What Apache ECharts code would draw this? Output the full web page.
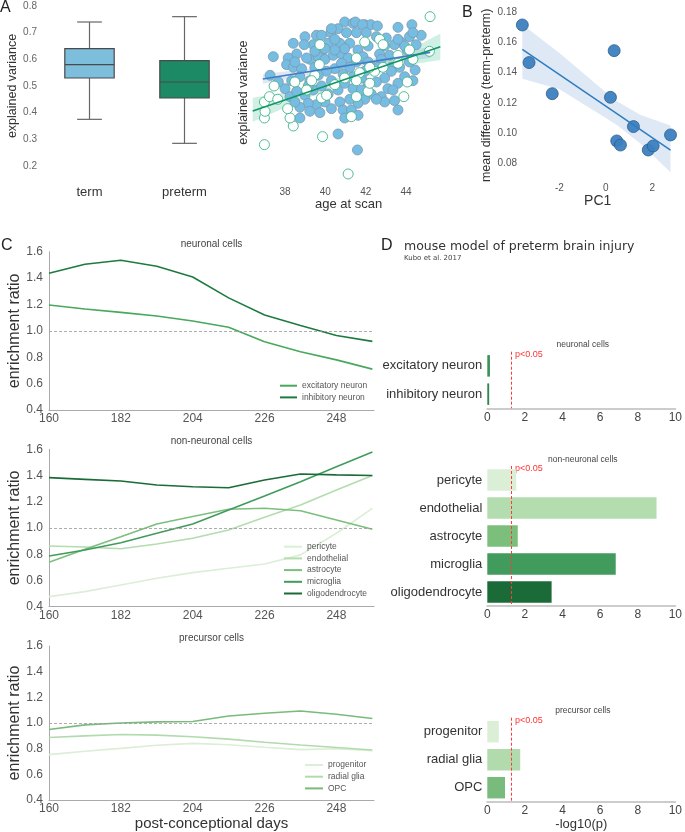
<!DOCTYPE html>
<html>
<head>
<meta charset="utf-8">
<script src="https://cdn.jsdelivr.net/npm/echarts@6/dist/echarts.min.js"></script>
<style>
html,body{margin:0;padding:0;background:#fff;}
#main{width:685px;height:832px;}
</style>
</head>
<body>
<div id="main"></div>
<script>
// ---------- panel A: boxplot  (min, q1, median, q3, max) ----------
var boxGroups = ['term', 'preterm'];
var boxStats = [
  [0.375, 0.53, 0.58, 0.64, 0.74],
  [0.285, 0.455, 0.515, 0.595, 0.76]
];

// ---------- panel A: explained variance vs age at scan ----------
var termPoints = [
  [37.42,0.61],[38.41,0.66],[38.99,0.685],[39.56,0.69],[40.27,0.70],[40.96,0.74],[41.37,0.735],[40.63,0.715],
  [41.95,0.73],[42.25,0.73],[42.58,0.725],[43.60,0.72],[44.29,0.73],[44.75,0.69],[44.17,0.685],[43.73,0.665],
  [44.50,0.655],[44.06,0.635],[43.19,0.615],[42.69,0.62],[42.12,0.65],[41.62,0.635],[41.21,0.66],[40.72,0.66],
  [40.14,0.66],[39.81,0.635],[39.40,0.655],[38.95,0.655],[38.58,0.62],[38.16,0.605],[38.08,0.58],[38.41,0.57],
  [38.82,0.565],[39.23,0.60],[39.65,0.61],[39.98,0.60],[40.39,0.615],[40.80,0.62],[41.13,0.605],[41.54,0.59],
  [41.87,0.61],[42.36,0.57],[42.77,0.60],[43.27,0.57],[43.68,0.57],[44.17,0.59],[44.45,0.56],[43.27,0.555],
  [42.94,0.53],[42.53,0.515],[42.12,0.51],[41.79,0.53],[41.37,0.535],[40.88,0.545],[40.47,0.565],[40.06,0.555],
  [39.65,0.54],[39.23,0.52],[38.74,0.535],[38.33,0.52],[38.0,0.49],[38.25,0.46],[38.58,0.48],[38.99,0.465],
  [39.40,0.485],[39.81,0.50],[40.14,0.47],[40.63,0.485],[40.96,0.51],[41.37,0.49],[41.79,0.485],[42.28,0.47],
  [42.77,0.46],[43.10,0.49],[43.60,0.51],[43.93,0.535],[44.34,0.52],[43.35,0.485],[42.94,0.44],[42.53,0.45],
  [41.95,0.45],[41.62,0.435],[41.21,0.45],[40.72,0.44],[40.30,0.415],[39.98,0.44],[39.56,0.43],[39.15,0.435],
  [38.74,0.42],[38.74,0.38],[39.23,0.405],[39.73,0.40],[40.88,0.41],[41.29,0.41],[41.62,0.39],[40.96,0.38],
  [40.63,0.32],[41.59,0.26],[43.43,0.445],[43.60,0.41],[37.26,0.54],[37.67,0.515],[41.49,0.74],[41.84,0.73],
  [39.81,0.69],[40.47,0.675],[41.05,0.70],[41.54,0.70],[42.03,0.70],[42.53,0.685],[43.02,0.68],[40.96,0.64],
  [40.47,0.635],[39.98,0.64],[39.48,0.63],[39.07,0.605],[38.49,0.59],[42.94,0.65],[43.43,0.655],[43.93,0.65],
  [44.34,0.70],[43.60,0.675],[40.30,0.715],[42.61,0.57],[42.12,0.59],[40.80,0.585],[39.48,0.57],[39.15,0.50],
  [40.30,0.52],[41.95,0.555],[41.21,0.57],[38.49,0.44]
];
var pretermPoints = [
  [45.19,0.76],[45.16,0.63],[36.98,0.28],[41.13,0.17],[39.86,0.31],[38.41,0.35],[38.25,0.38],[36.98,0.38],
  [37.01,0.405],[36.98,0.44],[37.46,0.50],[37.23,0.46],[37.64,0.45],[38.13,0.415],[38.49,0.515],[39.73,0.655],
  [39.70,0.58],[39.48,0.54],[39.81,0.455],[39.32,0.52],[41.29,0.385],[41.54,0.46],[42.12,0.48],[42.20,0.51],
  [41.95,0.665],[42.69,0.675],[42.86,0.655],[42.44,0.555],[43.60,0.615],[44.17,0.635],[44.06,0.515],[43.89,0.46],
  [42.20,0.57],[41.54,0.605],[41.70,0.55],[40.96,0.53],[40.47,0.505],[40.06,0.465],[39.07,0.485],[41.54,0.52],
  [42.86,0.57],[44.34,0.60],[43.60,0.585]
];
var termFit = [[36.9, 0.526], [45.2, 0.626]];
var pretermFit = [[36.4, 0.406], [45.7, 0.647]];
// [age, lower, upper]
var termBand = [[36.9,0.508,0.544],[41,0.567,0.583],[45.2,0.605,0.647]];
var pretermBand = [[36.4,0.366,0.456],[38,0.418,0.476],[40,0.482,0.516],[41,0.51,0.54],[42,0.535,0.567],[44,0.578,0.628],[45.7,0.597,0.697]];

// ---------- panel B ----------
var pc1 = [-3.6, -3.31, -2.31, 0.36, 0.2, 1.19, 0.47, 0.63, 1.83, 2.04, 2.79];
var meanDiff = [0.1716, 0.1467, 0.1261, 0.1546, 0.1237, 0.1043, 0.0948, 0.0921, 0.0888, 0.0915, 0.0988];
var bFit = [[-3.6, 0.1555], [2.79, 0.0888]];
var bBand = [[-3.6,0.136,0.172],[-2,0.129,0.153],[0,0.110,0.127],[0.5,0.105,0.121],[1.5,0.093,0.112],[2.79,0.074,0.105]];

// ---------- panel C: enrichment ratio over post-conceptional days ----------
var days = [160, 171, 182, 193, 204, 215, 226, 237, 248, 259];
var dayTicks = [160, 182, 204, 226, 248];
var excitatory = [1.196,1.166,1.14,1.113,1.075,1.027,0.918,0.842,0.78,0.71];
var inhibitory = [1.436,1.505,1.535,1.49,1.408,1.25,1.12,1.04,0.965,0.92];
var pericyte = [0.477,0.515,0.566,0.617,0.66,0.693,0.726,0.795,0.96,1.15];
var endothelial = [0.863,0.855,0.842,0.878,0.922,0.985,1.082,1.175,1.29,1.40];
var astrocyte = [0.739,0.838,0.934,1.031,1.087,1.143,1.15,1.132,1.061,0.99];
var microglia = [0.787,0.832,0.888,0.96,1.031,1.137,1.244,1.353,1.467,1.58];
var oligodendrocyte = [1.384,1.371,1.358,1.328,1.315,1.307,1.366,1.412,1.405,1.40];
var progenitor = [0.754,0.78,0.803,0.827,0.842,0.831,0.811,0.793,0.80,0.785];
var radialGlia = [0.888,0.90,0.911,0.906,0.893,0.875,0.85,0.829,0.81,0.79];
var opc = [0.95,0.986,1.0,1.009,1.012,1.055,1.076,1.094,1.068,1.035];

// ---------- panel D: -log10(p) ----------
var neuronCats = ['excitatory neuron', 'inhibitory neuron'];
var neuronP = [0.14, 0.1];
var nonNeuronCats = ['pericyte', 'endothelial', 'astrocyte', 'microglia', 'oligodendrocyte'];
var nonNeuronP = [1.54, 9.0, 1.62, 6.83, 3.42];
var precursorCats = ['progenitor', 'radial glia', 'OPC'];
var precursorP = [0.61, 1.75, 0.94];
var pThreshold = 1.301;

// colours
var boxColors = ['#7dbedd', '#1b8a65'];
var neuronColors = ['#48a85c', '#1e7b3f'];
var nonNeuronColors = ['#dbefd7', '#b3dcaf', '#7cbf7d', '#419b5c', '#1b6b38'];
var precursorColors = ['#dbeed6', '#b2dbad', '#79bb7c'];
var neuronBarColors = ['#3a9158', '#2f8650'];

var FONT = 'Liberation Sans, Arial, sans-serif';

function pairs(xs, ys){
  return xs.map(function(x, i){ return [x, ys[i]]; });
}

function bandSeries(band, idx, color){
  return {
    type: 'custom', xAxisIndex: idx, yAxisIndex: idx, silent: true,
    data: band, encode: {x: 0, y: [1, 2]},
    renderItem: function(params, api){
      if (params.dataIndex !== 0) return null;
      var pts = [];
      band.forEach(function(b){ pts.push(api.coord([b[0], b[2]])); });
      band.slice().reverse().forEach(function(b){ pts.push(api.coord([b[0], b[1]])); });
      return {type: 'polygon', shape: {points: pts}, style: {fill: color}};
    }
  };
}

function lineSeries(name, ys, color, idx, width){
  return {
    name: name, type: 'line', xAxisIndex: idx, yAxisIndex: idx,
    data: pairs(days, ys), symbol: 'none', smooth: false, silent: true,
    lineStyle: {color: color, width: width || 1.6}, itemStyle: {color: color}
  };
}

function refLine(idx){
  return {
    type: 'line', xAxisIndex: idx, yAxisIndex: idx, data: [], silent: true,
    markLine: {
      symbol: ['none', 'none'], silent: true, label: {show: false},
      lineStyle: {color: '#999', type: [3, 2], width: 0.8},
      data: [{yAxis: 1}]
    }
  };
}

function barSeries(vals, colors, idx){
  return {
    type: 'bar', xAxisIndex: idx, yAxisIndex: idx, barWidth: 21.5, silent: true,
    data: vals.map(function(v, i){ return {value: v, itemStyle: {color: colors[i]}}; }),
    markLine: {
      symbol: ['none', 'none'], silent: true, label: {show: false},
      lineStyle: {color: '#ff3b3b', type: [3, 2], width: 1},
      data: [{xAxis: pThreshold}]
    }
  };
}

function cXAxis(idx, name){
  return {
    gridIndex: idx, type: 'value', min: 160, max: 259.5,
    axisLine: {show: true, lineStyle: {color: '#aaa', width: 1}},
    axisTick: {show: false}, splitLine: {show: false},
    axisLabel: {customValues: dayTicks, fontSize: 12, color: '#555', margin: 3},
    name: name || '', nameLocation: 'middle', nameGap: 15,
    nameTextStyle: {fontSize: 15, color: '#333'}
  };
}
function cYAxis(idx){
  return {
    gridIndex: idx, type: 'value', min: 0.4, max: 1.6, interval: 0.2,
    axisLine: {show: true, lineStyle: {color: '#aaa', width: 1}},
    axisTick: {show: false}, splitLine: {show: false},
    axisLabel: {fontSize: 12, color: '#555', margin: 6, formatter: function(v){ return v.toFixed(1); }},
    name: 'enrichment ratio', nameLocation: 'middle', nameGap: 21,
    nameTextStyle: {fontSize: 16, color: '#333'}
  };
}
function dXAxis(idx, name){
  return {
    gridIndex: idx, type: 'value', min: 0, max: 10, interval: 2,
    axisLine: {show: true, lineStyle: {color: '#ccc', width: 2}},
    axisTick: {show: false}, splitLine: {show: false},
    axisLabel: {fontSize: 12, color: '#444', margin: 3},
    name: name || '', nameLocation: 'middle', nameGap: 16,
    nameTextStyle: {fontSize: 13, color: '#333'}
  };
}
function dYAxis(idx, cats){
  return {
    gridIndex: idx, type: 'category', data: cats, inverse: true,
    axisLine: {show: false}, axisTick: {show: false}, splitLine: {show: false},
    axisLabel: {fontSize: 13, color: '#333', margin: 5}
  };
}
function legendBox(names, left, top, iw){
  return {
    data: names, orient: 'vertical', left: left, top: top, padding: 0,
    icon: 'rect', itemWidth: iw, itemHeight: 2, itemGap: 1.7,
    selectedMode: false,
    textStyle: {fontSize: 8.5, color: '#555', lineHeight: 10, fontFamily: FONT}
  };
}
function txt(x, y, s, size, color, align, family){
  return {
    type: 'text', x: x, y: y, silent: true,
    style: {text: s, fontSize: size, fill: color || '#333', align: align || 'left',
            verticalAlign: 'middle', fontFamily: family || FONT}
  };
}

var myChart = echarts.init(document.getElementById('main'));
myChart.setOption({
  animation: false,
  backgroundColor: '#fff',
  textStyle: {fontFamily: FONT},
  grid: [
    {left: 42, top: 6, width: 190, height: 160},
    {left: 250.7, top: 6, width: 195.7, height: 173.3},
    {left: 520, top: 12.3, width: 155.4, height: 166.1},
    {left: 49, top: 251.7, width: 325, height: 158.3},
    {left: 49, top: 449.3, width: 325, height: 157.4},
    {left: 49, top: 646, width: 325, height: 155.7},
    {left: 487.3, top: 351.7, width: 191, height: 56.6},
    {left: 487.3, top: 466, width: 191, height: 140},
    {left: 487.3, top: 717.7, width: 191, height: 84}
  ],
  xAxis: [
    {gridIndex: 0, type: 'category', data: boxGroups,
     axisLine: {show: false}, axisTick: {show: false},
     axisLabel: {fontSize: 13, color: '#333', margin: 20}},
    {gridIndex: 1, type: 'value', min: 36.3, max: 46,
     axisLine: {show: false}, axisTick: {show: false}, splitLine: {show: false},
     axisLabel: {customValues: [38, 40, 42, 44], fontSize: 10, color: '#555', margin: 8},
     name: 'age at scan', nameLocation: 'middle', nameGap: 15,
     nameTextStyle: {fontSize: 13, color: '#333'}},
    {gridIndex: 2, type: 'value', min: -3.7, max: 3.0,
     axisLine: {show: false}, axisTick: {show: false}, splitLine: {show: false},
     axisLabel: {customValues: [-2, 0, 2], fontSize: 10, color: '#555', margin: 5},
     name: 'PC1', nameLocation: 'middle', nameGap: 14,
     nameTextStyle: {fontSize: 14, color: '#333'}},
    cXAxis(3), cXAxis(4), cXAxis(5, 'post-conceptional days'),
    dXAxis(6), dXAxis(7), dXAxis(8, '-log10(p)')
  ],
  yAxis: [
    {gridIndex: 0, type: 'value', min: 0.2, max: 0.8, interval: 0.1,
     axisLine: {show: false}, axisTick: {show: false}, splitLine: {show: false},
     axisLabel: {fontSize: 10, color: '#666', margin: 5, formatter: function(v){ return v.toFixed(1); }},
     name: 'explained variance', nameLocation: 'middle', nameGap: 21,
     nameTextStyle: {fontSize: 12.5, color: '#333'}},
    {gridIndex: 1, type: 'value', min: 0.15, max: 0.8,
     axisLine: {show: false}, axisTick: {show: false}, splitLine: {show: false},
     axisLabel: {show: false},
     name: 'explained variance', nameLocation: 'middle', nameGap: 1,
     nameTextStyle: {fontSize: 12.5, color: '#333'}},
    {gridIndex: 2, type: 'value', min: 0.07, max: 0.18,
     axisLine: {show: false}, axisTick: {show: false}, splitLine: {show: false},
     axisLabel: {customValues: [0.08, 0.10, 0.12, 0.14, 0.16, 0.18], fontSize: 10, color: '#555', margin: 3,
                 formatter: function(v){ return v.toFixed(2); }},
     name: 'mean difference (term-preterm)', nameLocation: 'middle', nameGap: 27,
     nameTextStyle: {fontSize: 12.5, color: '#333'}},
    cYAxis(3), cYAxis(4), cYAxis(5),
    dYAxis(6, neuronCats), dYAxis(7, nonNeuronCats), dYAxis(8, precursorCats)
  ],
  legend: [
    legendBox(['excitatory neuron', 'inhibitory neuron'], 280, 380.7, 17),
    legendBox(['pericyte', 'endothelial', 'astrocyte', 'microglia', 'oligodendrocyte'], 284, 541.7, 18),
    legendBox(['progenitor', 'radial glia', 'OPC'], 305, 760, 18)
  ],
  graphic: [
    txt(0, 8, 'A', 16, '#222'),
    txt(462, 13, 'B', 16, '#222'),
    txt(1, 246, 'C', 16, '#222'),
    txt(381, 246, 'D', 16, '#222'),
    txt(404, 247, 'mouse model of preterm brain injury', 12.5, '#333', 'left', 'DejaVu Sans'),
    txt(404, 258.5, 'Kubo et al. 2017', 7, '#444', 'left', 'DejaVu Sans'),
    txt(211.5, 244, 'neuronal cells', 10, '#444', 'center'),
    txt(211.5, 441.3, 'non-neuronal cells', 10, '#444', 'center'),
    txt(211.5, 638.3, 'precursor cells', 10, '#444', 'center'),
    txt(582.8, 345, 'neuronal cells', 8.5, '#444', 'center'),
    txt(582.8, 459.3, 'non-neuronal cells', 8.5, '#444', 'center'),
    txt(582.8, 710.7, 'precursor cells', 8.5, '#444', 'center'),
    txt(515, 354.3, 'p<0.05', 9, '#ff3333'),
    txt(515, 469, 'p<0.05', 9, '#ff3333'),
    txt(515, 720.3, 'p<0.05', 9, '#ff3333')
  ],
  series: [
    // A boxplot
    {type: 'custom', xAxisIndex: 0, yAxisIndex: 0, silent: true,
     data: boxStats.map(function(s, i){ return [i].concat(s); }),
     encode: {x: 0, y: [1, 2, 3, 4, 5]},
     renderItem: function(params, api){
       var i = api.value(0);
       var w = api.size([1, 0])[0] * 0.52;
       var pMin = api.coord([i, api.value(1)]);
       var pQ1 = api.coord([i, api.value(2)]);
       var pMed = api.coord([i, api.value(3)]);
       var pQ3 = api.coord([i, api.value(4)]);
       var pMax = api.coord([i, api.value(5)]);
       var cx = pMed[0];
       var st = {stroke: '#666', lineWidth: 1.2};
       return {type: 'group', children: [
         {type: 'line', shape: {x1: cx, y1: pMin[1], x2: cx, y2: pQ1[1]}, style: st},
         {type: 'line', shape: {x1: cx, y1: pQ3[1], x2: cx, y2: pMax[1]}, style: st},
         {type: 'line', shape: {x1: cx - w / 4, y1: pMin[1], x2: cx + w / 4, y2: pMin[1]}, style: st},
         {type: 'line', shape: {x1: cx - w / 4, y1: pMax[1], x2: cx + w / 4, y2: pMax[1]}, style: st},
         {type: 'rect', shape: {x: cx - w / 2, y: pQ3[1], width: w, height: pQ1[1] - pQ3[1]},
          style: {fill: boxColors[params.dataIndex], stroke: '#4a4a4a', lineWidth: 1.2}},
         {type: 'line', shape: {x1: cx - w / 2, y1: pMed[1], x2: cx + w / 2, y2: pMed[1]},
          style: {stroke: '#4a4a4a', lineWidth: 1.2}}
       ]};
     }},
    // A scatter
    {type: 'scatter', xAxisIndex: 1, yAxisIndex: 1, data: termPoints, symbolSize: 10, silent: true,
     itemStyle: {color: '#76bde3', borderColor: '#7d98ab', borderWidth: 0.8, opacity: 1}},
    {type: 'scatter', xAxisIndex: 1, yAxisIndex: 1, data: pretermPoints, symbolSize: 10, silent: true,
     itemStyle: {color: '#ffffff', borderColor: '#3db58a', borderWidth: 0.9, opacity: 1}},
    bandSeries(termBand, 1, 'rgba(70,130,200,0.18)'),
    bandSeries(pretermBand, 1, 'rgba(90,200,160,0.28)'),
    {type: 'line', xAxisIndex: 1, yAxisIndex: 1, data: termFit, symbol: 'none', silent: true,
     lineStyle: {color: '#3d7ec6', width: 1.6}},
    {type: 'line', xAxisIndex: 1, yAxisIndex: 1, data: pretermFit, symbol: 'none', silent: true,
     lineStyle: {color: '#109663', width: 1.6}},
    // B
    bandSeries(bBand, 2, 'rgba(60,125,195,0.17)'),
    {type: 'line', xAxisIndex: 2, yAxisIndex: 2, data: bFit, symbol: 'none', silent: true,
     lineStyle: {color: '#2f7cc0', width: 1.5}},
    {type: 'scatter', xAxisIndex: 2, yAxisIndex: 2, data: pairs(pc1, meanDiff), symbolSize: 12, silent: true,
     itemStyle: {color: '#3b7fc0', borderColor: '#2c5a85', borderWidth: 0.8, opacity: 0.95}},
    // C neuronal
    refLine(3),
    lineSeries('excitatory neuron', excitatory, neuronColors[0], 3),
    lineSeries('inhibitory neuron', inhibitory, neuronColors[1], 3),
    // C non-neuronal
    refLine(4),
    lineSeries('pericyte', pericyte, nonNeuronColors[0], 4),
    lineSeries('endothelial', endothelial, nonNeuronColors[1], 4),
    lineSeries('astrocyte', astrocyte, nonNeuronColors[2], 4),
    lineSeries('microglia', microglia, nonNeuronColors[3], 4),
    lineSeries('oligodendrocyte', oligodendrocyte, nonNeuronColors[4], 4),
    // C precursor
    refLine(5),
    lineSeries('progenitor', progenitor, precursorColors[0], 5),
    lineSeries('radial glia', radialGlia, precursorColors[1], 5),
    lineSeries('OPC', opc, precursorColors[2], 5),
    // D
    barSeries(neuronP, neuronBarColors, 6),
    barSeries(nonNeuronP, nonNeuronColors, 7),
    barSeries(precursorP, precursorColors, 8)
  ]
});
</script>
</body>
</html>
